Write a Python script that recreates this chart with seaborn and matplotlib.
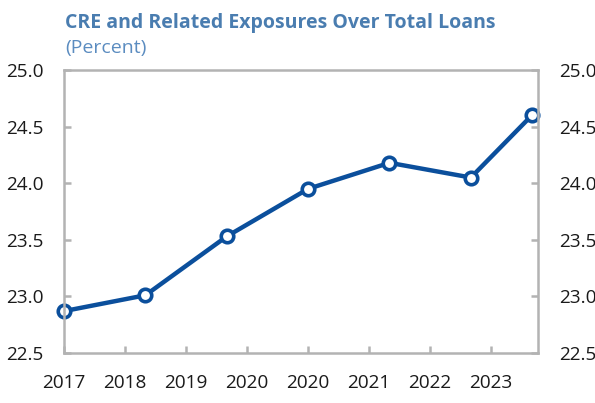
import matplotlib
matplotlib.use("Agg")
import matplotlib.pyplot as plt
import seaborn as sns
import pandas as pd

# Data (x in quarters from start of 2017)
quarters = [0, 4, 8, 12, 16, 20, 23]
values = [22.87, 23.01, 23.53, 23.95, 24.18, 24.05, 24.60]
tick_quarters = [0, 3, 6, 9, 12, 15, 18, 21]
tick_labels = ["2017", "2018", "2019", "2020", "2020", "2021", "2022", "2023"]
y_ticks = [22.5, 23.0, 23.5, 24.0, 24.5, 25.0]

sns.set_theme(style="white")
plt.rcParams["font.family"] = ["Open Sans", "DejaVu Sans"]

df = pd.DataFrame({"q": quarters, "v": values})

fig = plt.figure(figsize=(5.95, 4.03), dpi=100)
ax = fig.add_axes([64/595, 1-353/403, (538-64)/595, (353-70)/403])

line_color = "#0b4f9c"
sns.lineplot(data=df, x="q", y="v", ax=ax, color=line_color, linewidth=3.2,
             marker="o", markersize=9, markerfacecolor="white",
             markeredgecolor=line_color, markeredgewidth=2.6, clip_on=False)

ax.set_xlim(0, 23.3)
ax.set_ylim(22.5, 25.0)
ax.set_xticks(tick_quarters)
ax.set_xticklabels(tick_labels)
ax.set_yticks(y_ticks)
ax.set_yticklabels([f"{t:.1f}" for t in y_ticks])
ax.set_xlabel("")
ax.set_ylabel("")

for s in ax.spines.values():
    s.set_color("#b3b3b3")
    s.set_linewidth(1.8)
    s.set_visible(True)

ax.tick_params(axis="x", direction="in", length=5, width=1.8, color="#b3b3b3",
               labelsize=13.7, labelcolor="#1a1a1a", pad=15, bottom=True)
ax.tick_params(axis="y", direction="in", length=5, width=1.8, color="#b3b3b3",
               labelsize=13.7, labelcolor="#1a1a1a", pad=15, left=True, right=True,
               labelleft=True, labelright=True)

fig.text(65/595, 1-23/403, "CRE and Related Exposures Over Total Loans",
         fontsize=14, fontweight="bold", color="#4a7db0", va="center", ha="left")
fig.text(65/595, 1-48/403, "(Percent)", fontsize=14, color="#5b8cc0",
         va="center", ha="left")

fig.savefig("out.png", dpi=100)
